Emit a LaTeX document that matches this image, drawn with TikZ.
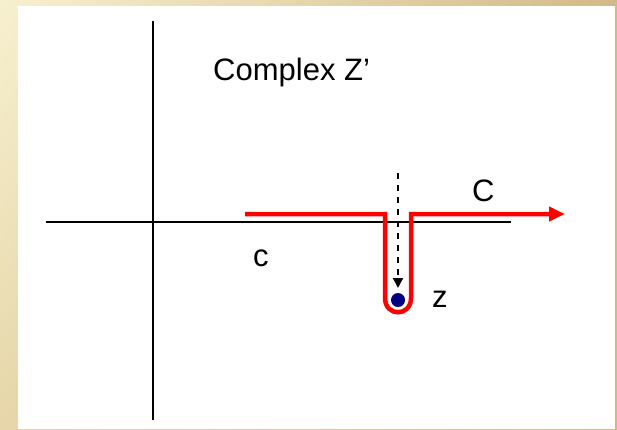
\documentclass[tikz,border=0pt]{standalone}
\usepackage{fontspec}
\setmainfont{Liberation Sans}
\usetikzlibrary{arrows.meta,shadings}
\definecolor{bgA}{HTML}{F7F0CF}
\definecolor{bgB}{HTML}{E6D6A9}
\definecolor{bgC}{HTML}{D2BA87}
\definecolor{dotblue}{HTML}{000080}
\tikzset{
  axis/.style={line width=2.4pt, black},
  contour/.style={line width=4.5pt, red, line join=miter},
  lbl/.style={inner sep=0pt, anchor=base west, font=\fontsize{31}{36}\selectfont},
  dashedarrow/.style={line width=2pt, dash pattern=on 6pt off 6pt, -{Triangle[length=10pt,width=10pt]}},
}
\begin{document}
\begin{tikzpicture}[x=1pt,y=-1pt]
\useasboundingbox (0,0) rectangle (617,429);
\shade[upper left=bgA, lower left=bgB, upper right=bgC, lower right=bgC] (0,0) rectangle (617,429);
\fill[white] (18,6) rectangle (615,429);
% axes
\coordinate (xl) at (46,222);
\coordinate (xr) at (511,222);
\coordinate (yt) at (153,21);
\coordinate (yb) at (153,420);
\draw[axis] (xl) -- (xr);
\draw[axis] (yt) -- (yb);
% labels
\node[lbl] (title) at (213,80) {Complex Z’};
\node[lbl] (Clbl) at (472,201) {C};
\node[lbl] (clbl) at (253,266) {c};
\node[lbl] (zlbl) at (432,307) {z};
% pole
\node[circle, fill=dotblue, inner sep=0pt, minimum size=14pt] (z) at (398,300) {};
% contour
\coordinate (c0) at (245,214);
\coordinate (c1) at (385,214);
\coordinate (c2) at (385,298);
\coordinate (c3) at (411,298);
\coordinate (c4) at (411,214);
\coordinate (c5) at (565,214);
\draw[contour, -{Triangle[length=16pt,width=14pt]}] (c0) -- (c1) -- (c2) .. controls (385,317) and (411,317) .. (c3) -- (c4) -- (c5);
% dashed arrow
\coordinate (dtop) at (398,173);
\coordinate (dtip) at (398,288);
\draw[dashedarrow] (dtop) -- (dtip);
\end{tikzpicture}
\end{document}
